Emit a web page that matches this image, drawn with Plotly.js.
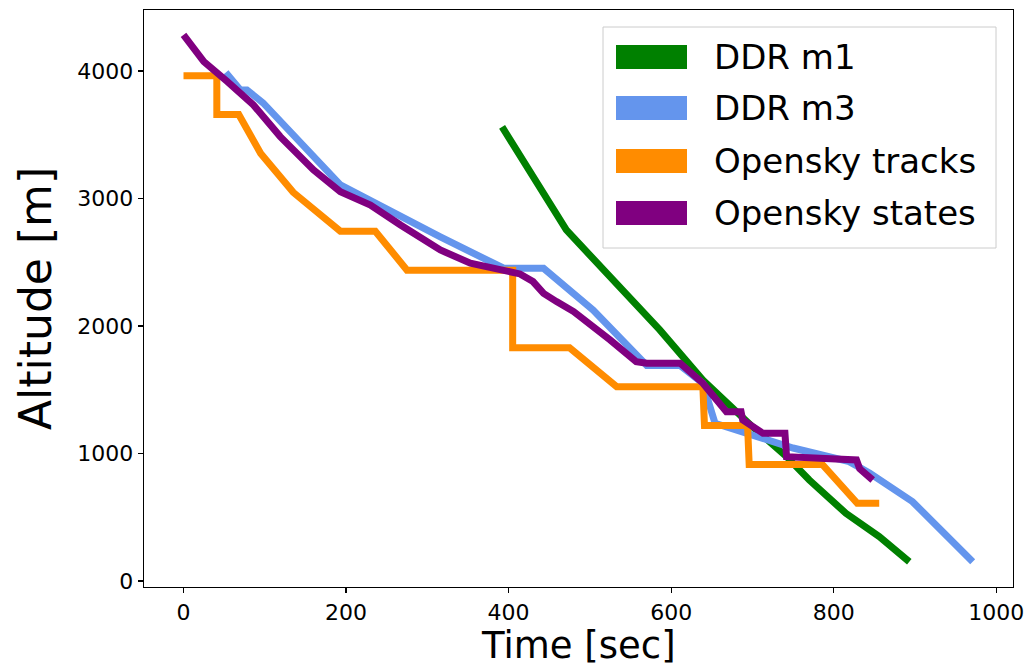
<!DOCTYPE html>
<html>
<head>
<meta charset="utf-8">
<script src="https://cdn.plot.ly/plotly-3.0.1.min.js"></script>
<style>html,body{margin:0;padding:0;background:#fff;}#chart{width:1032px;height:669px;}</style>
</head>
<body>
<div id="chart"></div>
<script>
// ---- data ----
const seriesNames = ["DDR m1", "DDR m3", "Opensky tracks", "Opensky states"];
const seriesColors = ["#008000", "#6495ED", "#FF8C00", "#800080"];

const ddrM1Time = [392, 471, 586, 639, 700, 742, 770, 815, 856, 893];
const ddrM1Alt  = [3561, 2753, 1969, 1576, 1210, 975, 792, 531, 348, 151];

const ddrM3Time = [52, 70, 78, 98, 193, 234, 316, 394, 443, 504, 570, 611, 639, 654, 700, 750, 819, 844, 897, 971];
const ddrM3Alt  = [3987, 3851, 3851, 3749, 3106, 2965, 2698, 2453, 2453, 2125, 1690, 1690, 1551, 1237, 1145, 1043, 936, 847, 622, 151];

const tracksTime = [0, 41, 41, 68, 95, 135, 193, 236, 275, 405, 405, 475, 533, 639, 641, 694, 696, 786, 829, 856];
const tracksAlt  = [3962, 3962, 3658, 3658, 3353, 3048, 2743, 2743, 2438, 2438, 1829, 1829, 1524, 1524, 1219, 1219, 914, 914, 610, 610];

const statesTime = [0, 25, 54, 70, 86, 119, 160, 193, 230, 267, 316, 353, 393, 414, 430, 443, 459, 480, 525, 557, 570, 611, 639, 668, 686, 688, 713, 740, 742, 799, 828, 832, 848];
const statesAlt  = [4282, 4073, 3916, 3825, 3733, 3485, 3224, 3053, 2949, 2792, 2596, 2492, 2434, 2408, 2348, 2256, 2191, 2113, 1890, 1720, 1708, 1708, 1551, 1328, 1328, 1263, 1158, 1158, 975, 949, 949, 880, 792];

const xTicks = [0, 200, 400, 600, 800, 1000];
const yTicks = [0, 1000, 2000, 3000, 4000];
const xTitle = "Time [sec]";
const yTitle = "Altitude [m]";

const xs = [ddrM1Time, ddrM3Time, tracksTime, statesTime];
const ys = [ddrM1Alt, ddrM3Alt, tracksAlt, statesAlt];

// ---- layout geometry ----
const W = 1032, H = 669;
const M = {l: 144, r: 19, t: 10, b: 82};
const PW = W - M.l - M.r, PH = H - M.t - M.b;
const px2x = p => (p - M.l) / PW;
const py2y = p => (H - M.b - p) / PH;

const traces = xs.map((x, i) => ({
  type: "scatter", mode: "lines", x: x, y: ys[i], name: seriesNames[i],
  line: {color: seriesColors[i], width: 7}, showlegend: false, hoverinfo: "x+y+name"
}));

// manual matplotlib-style legend
const shapes = [{
  type: "rect", xref: "paper", yref: "paper",
  x0: px2x(603), x1: px2x(996), y0: py2y(248), y1: py2y(27),
  line: {color: "#cccccc", width: 1}, fillcolor: "rgba(255,255,255,0.85)", layer: "above"
}];
const annotations = [];
const rowY = [57, 108, 161, 213];
seriesNames.forEach((n, i) => {
  shapes.push({
    type: "rect", xref: "paper", yref: "paper",
    x0: px2x(616), x1: px2x(687), y0: py2y(rowY[i] + 12), y1: py2y(rowY[i] - 12),
    line: {width: 0}, fillcolor: seriesColors[i], layer: "above"
  });
  annotations.push({
    xref: "paper", yref: "paper", x: px2x(712), y: py2y(rowY[i]),
    xanchor: "left", yanchor: "middle", showarrow: false, text: n,
    font: {family: "DejaVu Sans", size: 34, color: "#000"}
  });
});
// x-axis title
annotations.push({
  xref: "paper", yref: "paper", x: 0.5, y: py2y(645),
  xanchor: "center", yanchor: "middle", showarrow: false, text: xTitle,
  font: {family: "DejaVu Sans", size: 37, color: "#000"}, borderpad: 0
});

const axisCommon = {
  showgrid: false, zeroline: false, showline: true, mirror: true,
  linecolor: "#000", linewidth: 1.3, ticks: "outside", ticklen: 5, tickwidth: 1.3, tickcolor: "#000",
  tickfont: {family: "DejaVu Sans", size: 22, color: "#000"}, automargin: false
};

const layout = {
  width: W, height: H, margin: M,
  paper_bgcolor: "#fff", plot_bgcolor: "#fff",
  font: {family: "DejaVu Sans", color: "#000"},
  xaxis: Object.assign({}, axisCommon, {
    range: [-48.6, 1020.6], tickvals: xTicks, ticktext: xTicks.map(String)
  }),
  yaxis: Object.assign({}, axisCommon, {
    range: [-47, 4478], tickvals: yTicks, ticktext: yTicks.map(String),
    title: {text: yTitle, font: {family: "DejaVu Sans", size: 44, color: "#000"}, standoff: 12}
  }),
  shapes: shapes, annotations: annotations, showlegend: false
};

Plotly.newPlot("chart", traces, layout, {displayModeBar: false, staticPlot: true});
</script>
</body>
</html>
